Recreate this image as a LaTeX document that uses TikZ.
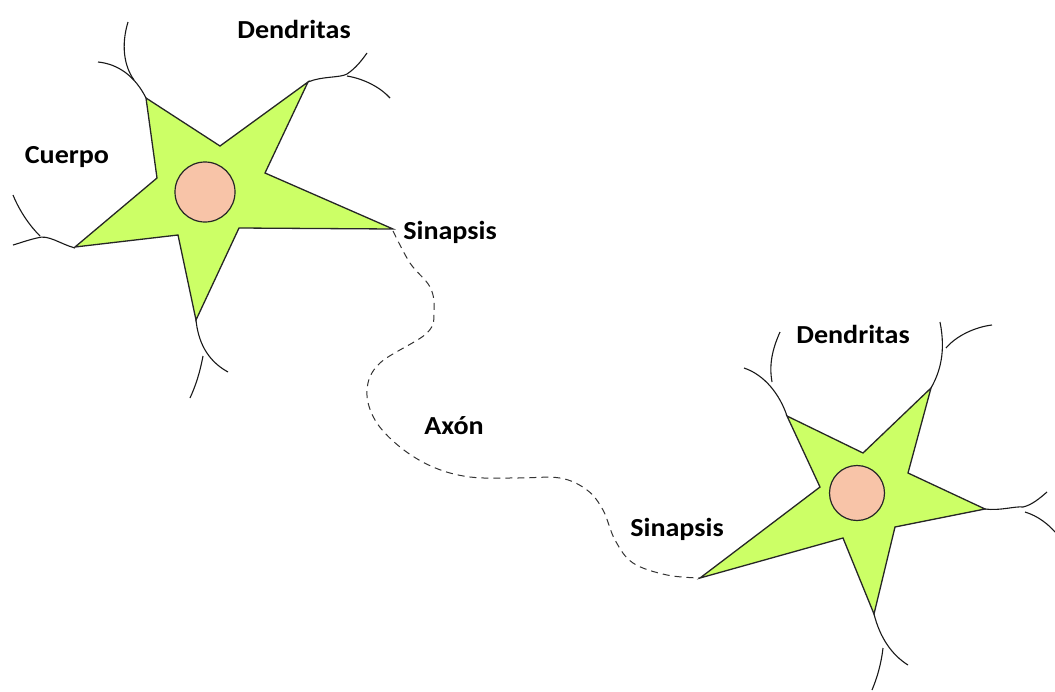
\documentclass[tikz,border=0pt]{standalone}
\usepackage{fontspec}
\setsansfont{Carlito}[FakeStretch=1.08]
\usepackage{tikz}

\definecolor{cellgreen}{HTML}{CCFF66}
\definecolor{nucleuspink}{HTML}{F8C4A8}

\begin{document}
\begin{tikzpicture}[x=1pt,y=-1pt,
    cell/.style={fill=cellgreen,draw=black!85,line width=1.3pt,line join=miter},
    nucleus/.style={circle,fill=nucleuspink,draw=black!85,line width=1.2pt,minimum size=#1,inner sep=0pt},
    dendrite/.style={draw=black!90,line width=1.1pt},
    axon/.style={draw=black!80,line width=1pt,dash pattern=on 7pt off 5pt},
    tag/.style={font=\sffamily\bfseries\fontsize{26}{30}\selectfont,anchor=base}]
  \useasboundingbox (0,0) rectangle (1055,691);

  % first neuron
  \draw[cell] (146,98) -- (220,146) -- (308,82) -- (265,173) -- (393,229) -- (239,228)
     -- (196,320) -- (178,235) -- (75,247) -- (157,178) -- cycle;
  \node[nucleus=60pt] (n1) at (205,192) {};
  \coordinate (syn1) at (393,231);

  \draw[dendrite] (146,98) .. controls (135,76) and (118,64) .. (98,62);
  \draw[dendrite] (128,22) .. controls (121,45) and (124,66) .. (134,80);
  \draw[dendrite] (308,82) .. controls (322,76) and (340,78) .. (347,74) .. controls (356,68) and (362,60) .. (367,53);
  \draw[dendrite] (347,76) .. controls (365,79) and (381,88) .. (390,98);
  \draw[dendrite] (75,248) .. controls (60,244) and (48,234) .. (37,238) .. controls (28,240) and (20,243) .. (13,245);
  \draw[dendrite] (13,195) .. controls (20,212) and (30,226) .. (40,236);
  \draw[dendrite] (196,320) .. controls (198,340) and (206,360) .. (228,372);
  \draw[dendrite] (203,356) .. controls (200,372) and (196,385) .. (190,398);

  % second neuron
  \draw[cell] (787,416) -- (863,453) -- (931,388) -- (908,473) -- (985,509) -- (895,527)
     -- (874,614) -- (843,538) -- (700,578) -- (820,487) -- cycle;
  \node[nucleus=55pt] (n2) at (857,493) {};
  \coordinate (syn2) at (700,578);

  \draw[dendrite] (787,416) .. controls (780,395) and (765,375) .. (744,368);
  \draw[dendrite] (780,332) .. controls (772,350) and (769,365) .. (772,382);
  \draw[dendrite] (931,388) .. controls (940,372) and (946,352) .. (940,322);
  \draw[dendrite] (946,348) .. controls (956,336) and (975,327) .. (992,325);
  \draw[dendrite] (985,509) .. controls (1000,511) and (1015,506) .. (1023,507) .. controls (1032,505) and (1040,498) .. (1047,492);
  \draw[dendrite] (1025,512) .. controls (1038,516) and (1048,524) .. (1055,532);
  \draw[dendrite] (874,614) .. controls (880,638) and (892,655) .. (908,665);
  \draw[dendrite] (883,648) .. controls (881,665) and (877,678) .. (872,690);

  % axon between the two cells
  \draw[axon] plot[smooth,tension=0.6] coordinates {(syn1) (410,263) (430,287) (434,310)
     (427,333) (380,363) (367,390) (375,420) (400,447) (433,467) (470,477) (517,478)
     (560,478) (587,490) (603,510) (615,540) (633,563) (667,575) (syn2)};

  % labels
  \node[tag] (den1) at (294,38) {Dendritas};
  \node[tag] (cuerpo) at (67,163) {Cuerpo};
  \node[tag] (sin1) at (450,239) {Sinapsis};
  \node[tag] (axon) at (454,434) {Axón};
  \node[tag] (sin2) at (677,536) {Sinapsis};
  \node[tag] (den2) at (853,343) {Dendritas};
\end{tikzpicture}
\end{document}
